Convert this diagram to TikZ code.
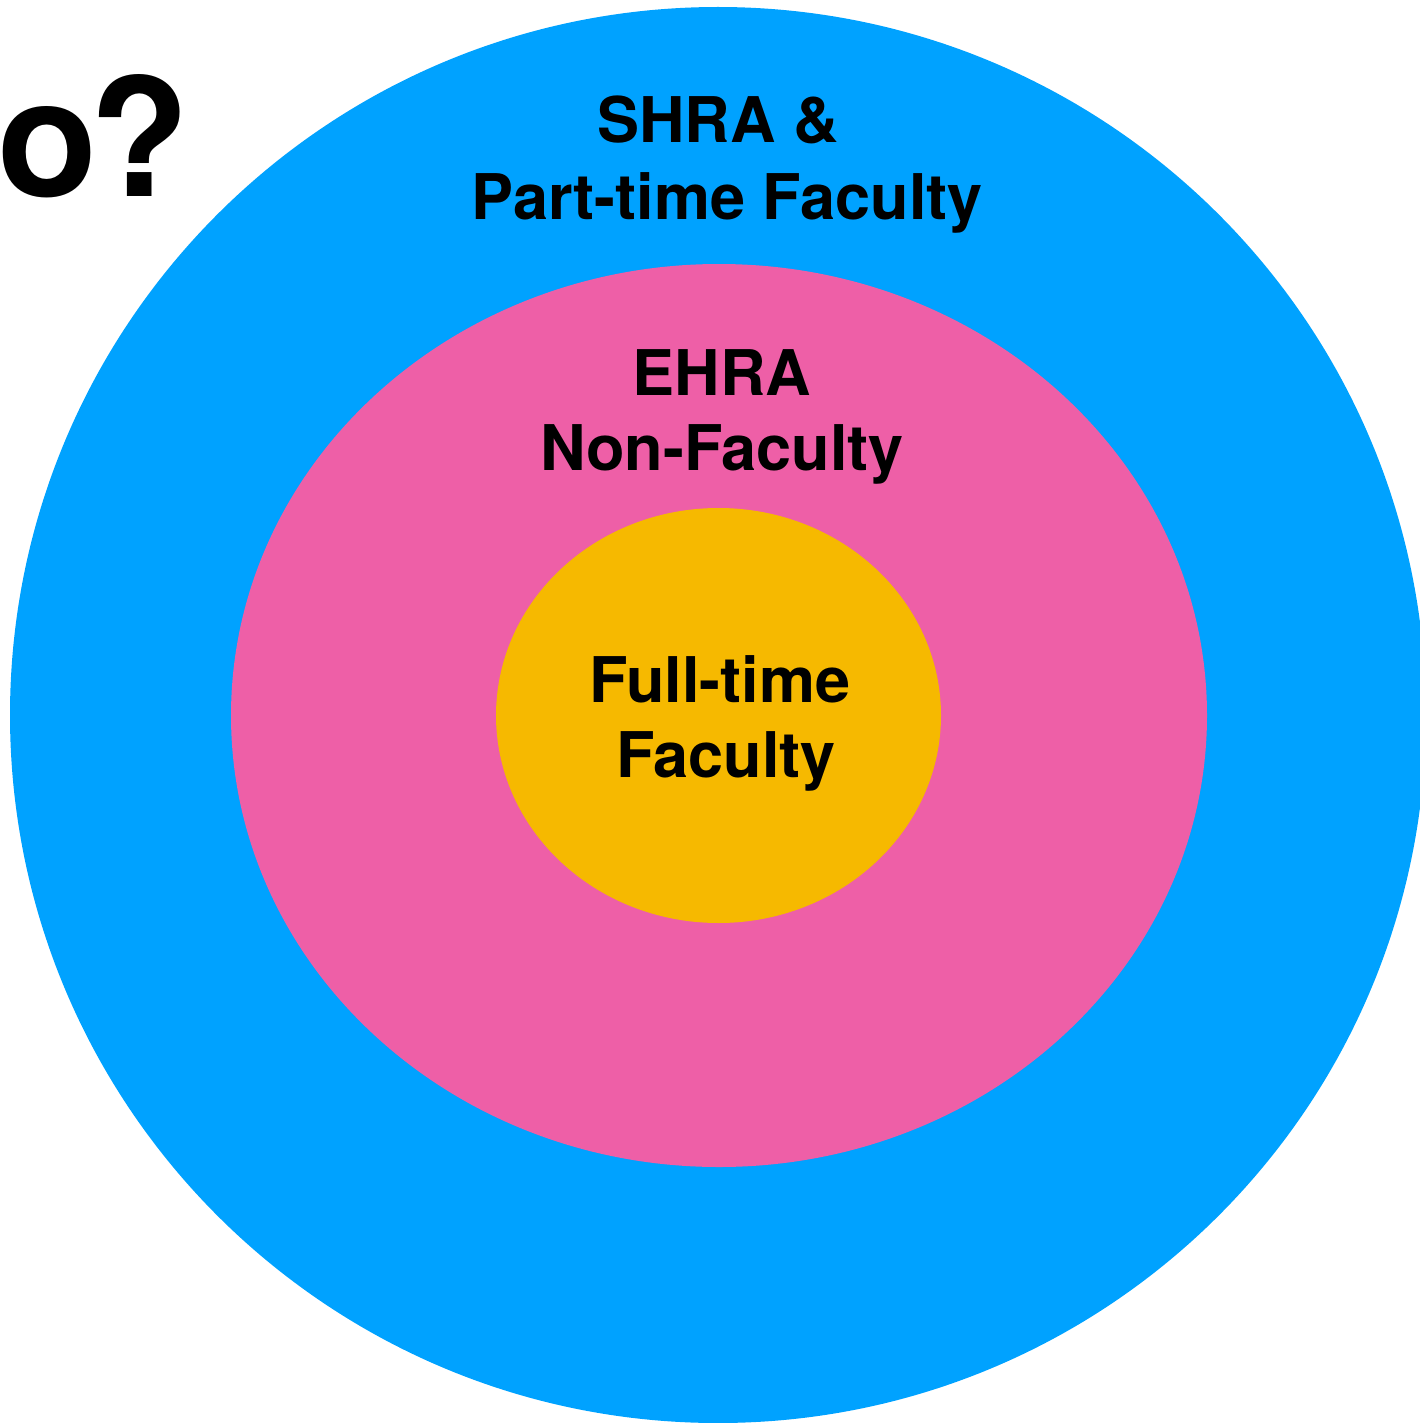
\documentclass[tikz,border=0pt]{standalone}
\usepackage{fontspec}
\setmainfont{TeX Gyre Heros}
\definecolor{outerblue}{HTML}{00A2FF}
\definecolor{midpink}{HTML}{EE5FA7}
\definecolor{inneryellow}{HTML}{F6B900}
\begin{document}
\begin{tikzpicture}[x=1pt,y=-1pt,
  ring/.style={draw=none},
  lbl/.style={inner sep=0pt,anchor=base,font=\fontsize{63}{74}\selectfont\bfseries,text=black}]
\useasboundingbox (0,0) rectangle (1420,1423);
\begin{scope}
\clip (0,0) rectangle (1420,1423);
\fill[outerblue] (718,715) ellipse [x radius=708pt, y radius=708pt];
\fill[midpink] (719,715.5) ellipse [x radius=488pt, y radius=451.5pt];
\fill[inneryellow] (718.5,715.5) ellipse [x radius=222.5pt, y radius=207.5pt];
\node[inner sep=0pt,anchor=base west,font=\fontsize{164}{190}\selectfont\bfseries] (q) at (-3,197) {o\kern-8pt?};
\end{scope}
\node[lbl] (s1) at (718,143) {SHRA \&};
\node[lbl] (s2) at (727,220) {Part-time Faculty};
\node[lbl] (e1) at (722,395) {EHRA};
\node[lbl] (e2) at (722,470) {Non-Faculty};
\node[lbl] (f1) at (719.5,702) {Full-time};
\node[lbl] (f2) at (726,777) {Faculty};
\end{tikzpicture}
\end{document}
